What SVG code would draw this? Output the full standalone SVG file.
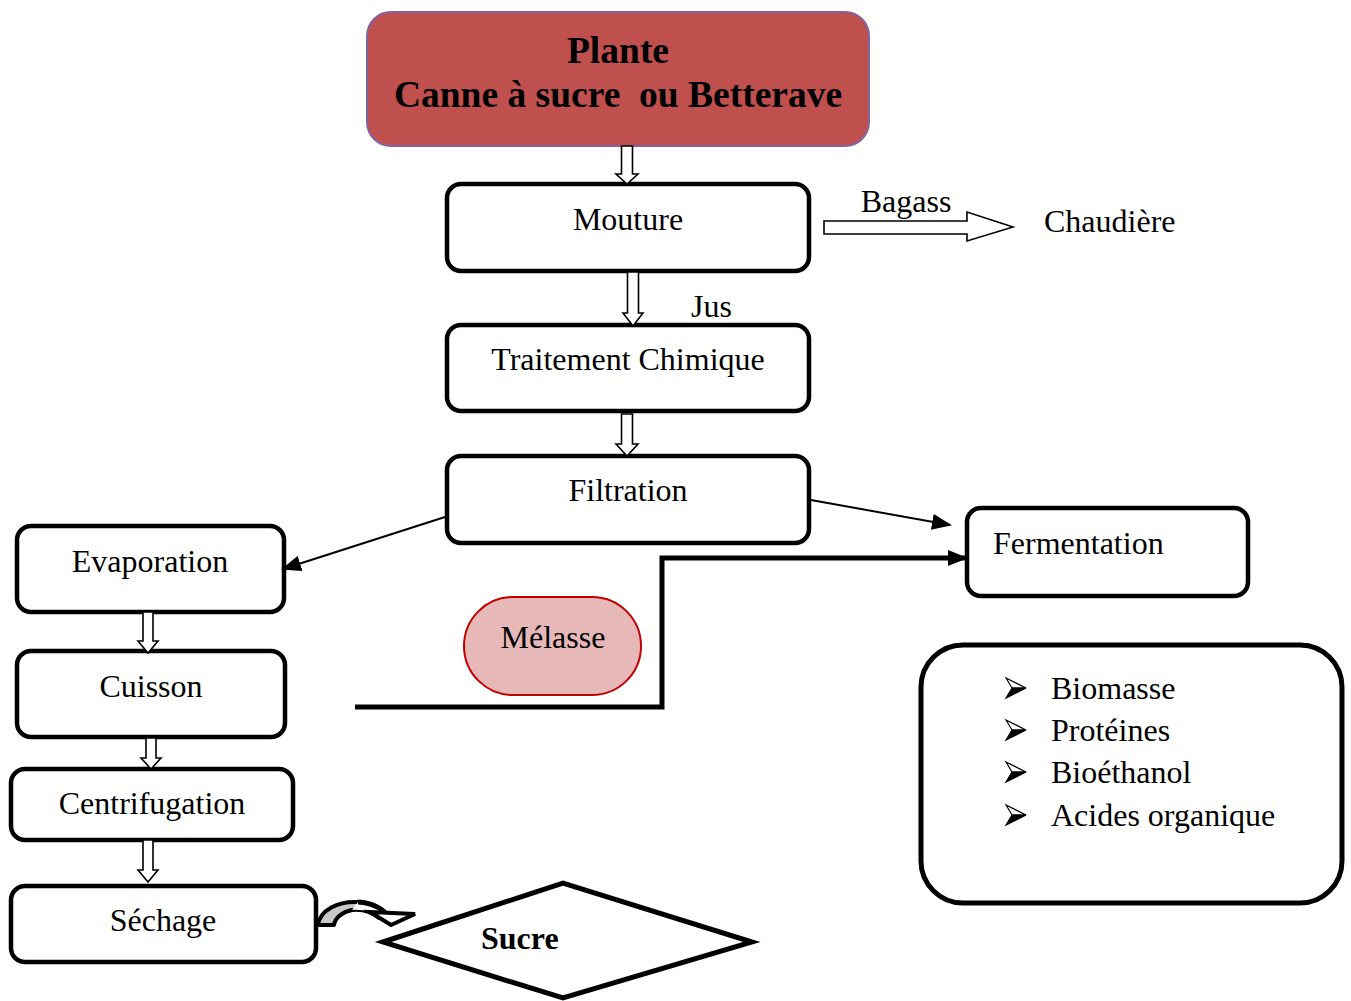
<svg xmlns="http://www.w3.org/2000/svg" width="1351" height="1001" viewBox="0 0 1351 1001">
<style>
text{font-family:"Liberation Serif","Times New Roman",serif;fill:#000;white-space:pre}
.lbl{font-size:32px}
.mid{text-anchor:middle}
.b{font-weight:bold}
.box{fill:#fff;stroke:#000;stroke-width:4.5}
.ha{fill:#fff;stroke:#000;stroke-width:1.6;stroke-linejoin:miter}
.ln{fill:none;stroke:#000;stroke-width:2}
</style>
<defs>
<marker id="ah2" markerWidth="20" markerHeight="16" refX="18" refY="8" orient="auto" markerUnits="userSpaceOnUse" viewBox="0 0 20 16">
<path d="M0,0 L20,8 L0,16 Z" fill="#000"/>
</marker>
<g id="bul">
<path d="M0,-10 L20,0 L6,0 Z" fill="#fff" stroke="#000" stroke-width="1.2"/>
<path d="M6,0 L20,0 L0,10 Z" fill="#000" stroke="#000" stroke-width="1.2"/>
</g>
</defs>

<g id="plante">
<rect x="367" y="12" width="502" height="134" rx="24" fill="#C0504D" stroke="#8064A2" stroke-width="2"/>
<text class="b mid" x="618" y="63" font-size="37.5">Plante</text>
<text class="b mid" x="618" y="107" font-size="37.5">Canne à sucre  ou Betterave</text>
</g>

<g id="mouture">
<rect class="box" x="447" y="184" width="362" height="87" rx="14"/>
<text class="lbl mid" x="628" y="230">Mouture</text>
</g>

<g id="traitement">
<rect class="box" x="447" y="325" width="362" height="86" rx="14"/>
<text class="lbl mid" x="628" y="370">Traitement Chimique</text>
</g>

<g id="filtration">
<rect class="box" x="447" y="456" width="362" height="87" rx="14"/>
<text class="lbl mid" x="628" y="501">Filtration</text>
</g>

<g id="evaporation">
<rect class="box" x="17" y="526" width="267" height="86" rx="14"/>
<text class="lbl mid" x="150" y="572">Evaporation</text>
</g>

<g id="cuisson">
<rect class="box" x="17" y="651" width="268" height="86" rx="14"/>
<text class="lbl mid" x="151" y="697">Cuisson</text>
</g>

<g id="centrifugation">
<rect class="box" x="11" y="769" width="282" height="71" rx="14"/>
<text class="lbl mid" x="152" y="814">Centrifugation</text>
</g>

<g id="sechage">
<rect class="box" x="11" y="886" width="305" height="76" rx="14"/>
<text class="lbl mid" x="163" y="931">Séchage</text>
</g>

<g id="sucre">
<polygon points="383,942 563,883 752,942 563,998" fill="#fff" stroke="#000" stroke-width="5"/>
<text class="b" x="481" y="949" font-size="32">Sucre</text>
</g>

<g id="melasse">
<rect x="464" y="597" width="177" height="98" rx="49" fill="#E6B9B8" stroke="#C00000" stroke-width="2"/>
<text class="lbl mid" x="553" y="648">Mélasse</text>
</g>

<g id="fermentation">
<rect class="box" x="967" y="508" width="281" height="88" rx="14"/>
<text class="lbl" x="993" y="554">Fermentation</text>
</g>

<g id="produits">
<rect x="921" y="645" width="421" height="258" rx="42" fill="#fff" stroke="#000" stroke-width="5"/>
<use href="#bul" x="1006" y="688"/>
<use href="#bul" x="1006" y="730"/>
<use href="#bul" x="1006" y="772"/>
<use href="#bul" x="1006" y="815"/>
<text class="lbl" x="1051" y="699">Biomasse</text>
<text class="lbl" x="1051" y="741">Protéines</text>
<text class="lbl" x="1051" y="783">Bioéthanol</text>
<text class="lbl" x="1051" y="826">Acides organique</text>
</g>

<g id="chaudiere">
<text class="lbl" x="1044" y="232">Chaudière</text>
</g>

<g id="connectors">
<polygon class="ha" points="621.5,146 632.5,146 632.5,174 638,174 627,184 616,174 621.5,174"/>
<polygon class="ha" points="627.5,272 638.5,272 638.5,313 643,313 633,326 623,313 627.5,313"/>
<text class="lbl" x="691" y="317">Jus</text>
<polygon class="ha" points="621.5,414 632.5,414 632.5,444 638,444 627,456 616,444 621.5,444"/>
<polygon class="ha" points="824,221 967,221 967,212 1013,227 967,241 967,234 824,234"/>
<text class="lbl mid" x="906" y="212">Bagass</text>
<line class="ln" x1="445" y1="517" x2="283" y2="569" marker-end="url(#ah2)"/>
<line class="ln" x1="811" y1="500" x2="950" y2="525" marker-end="url(#ah2)"/>
<polyline points="355,707 662,707 662,558 966,558" fill="none" stroke="#000" stroke-width="5" marker-end="url(#ah2)"/>
<polygon class="ha" points="143,612 153,612 153,641 158,641 148,653 138,641 143,641"/>
<polygon class="ha" points="146,738 156,738 156,758 161,758 151,769 141,758 146,758"/>
<polygon class="ha" points="143,840 153,840 153,870 158,870 148,882 138,870 143,870"/>
<path d="M318,925 C320,910 338,901 358,902 C374,903 384,910 388,916 L379,918 C372,912 362,909 352,910 C342,912 335,918 334,925 Z" fill="#c8c8c8" stroke="#000" stroke-width="4" stroke-linejoin="round"/>
<path d="M358,902 C374,903 384,910 388,916 L379,918 C372,912 362,909 352,910 Z" fill="#fff" stroke="none"/>
<path d="M358,902 C374,903 384,910 388,916" fill="none" stroke="#000" stroke-width="5"/>
<path d="M370,912 L415,914 L391,925 Z" fill="#fff" stroke="#000" stroke-width="4" stroke-linejoin="miter"/>
</g>
</svg>
